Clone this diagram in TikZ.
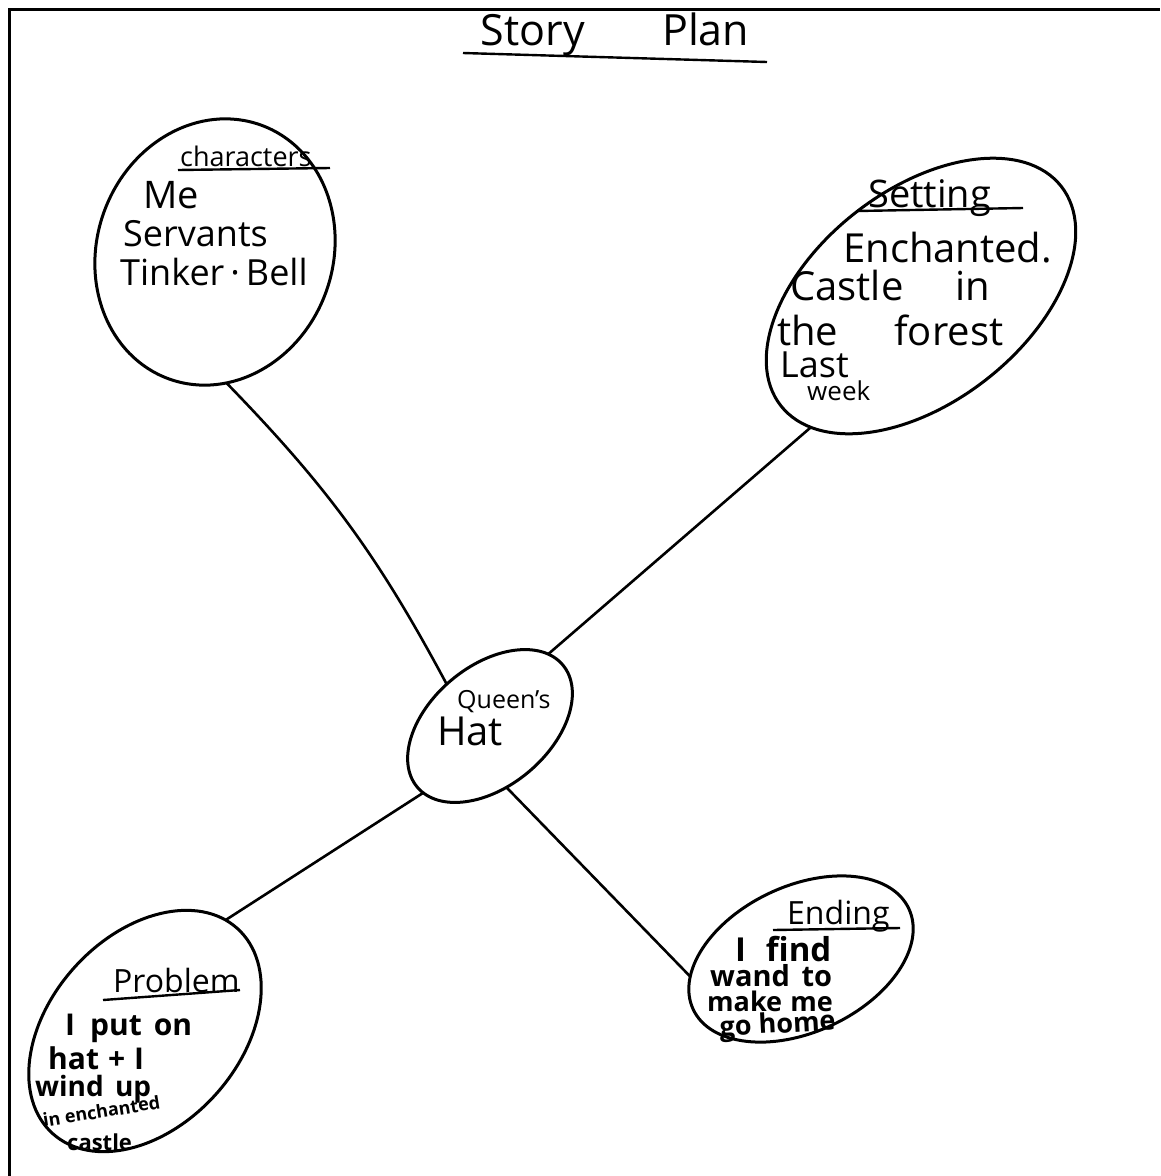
\documentclass[tikz,border=0pt]{standalone}
\usepackage{fontspec}
\setmainfont{Open Sans}
\usetikzlibrary{shapes.geometric}
\begin{document}
\begin{tikzpicture}[x=1pt,y=-1pt,
    blob/.style={draw,ellipse,line width=3pt,inner sep=0pt,outer sep=0pt},
    hand/.style={inner sep=0pt,anchor=base west,font=\fontsize{#1}{#1}\selectfont},
    boldhand/.style={inner sep=0pt,anchor=base west,font=\fontsize{#1}{#1}\selectfont\bfseries},
    link/.style={line width=2.6pt},
    rule/.style={line width=2.4pt}]
  \useasboundingbox (0,0) rectangle (1160,1176);
  \draw[line width=3pt] (9,1176) -- (9,9) -- (1160,9);
  \path
    (215,252) node[blob,minimum width=270,minimum height=236,rotate=70] (chars) {}
    (921,296) node[blob,minimum width=356,minimum height=212,rotate=38] (setting) {}
    (490,726) node[blob,minimum width=190,minimum height=120,rotate=40] (hat) {}
    (145,1031) node[blob,minimum width=276,minimum height=190,rotate=48] (problem) {}
    (801,959) node[blob,minimum width=238,minimum height=146,rotate=25] (ending) {};
  \path
    (615,45) node[hand=43,anchor=base] (title) {Story\hspace{1.8em}Plan}
    (180,166) node[hand=27] (charshead) {characters}
    (143,208) node[hand=38] (me) {Me}
    (123,246) node[hand=36] (servants) {Servants}
    (120,285) node[hand=36] (tinker) {Tinker\,·\,Bell}
    (868,207) node[hand=38] (settinghead) {Setting}
    (843,262) node[hand=40] (enchanted) {Enchanted.}
    (790,300) node[hand=40] (castle) {Castle\hspace{1.3em}in}
    (777,345) node[hand=40] (forest) {the\hspace{1.4em}forest}
    (780,377) node[hand=36] (last) {Last}
    (807,400) node[hand=26] (week) {week}
    (457,708) node[hand=25] (queens) {Queen's}
    (437,745) node[hand=40] (hattext) {Hat}
    (113,992) node[hand=32] (problemhead) {Problem}
    (65,1035) node[boldhand=30] (puton) {I\hspace{0.5em}put\hspace{0.4em}on}
    (48,1069) node[boldhand=30] (hatand) {hat\hspace{0.3em}+\hspace{0.3em}I}
    (35,1096) node[boldhand=28] (windup) {wind\hspace{0.4em}up}
    (44,1127) node[boldhand=18,rotate=9] (inench) {in enchanted}
    (67,1150) node[boldhand=22] (castleb) {castle}
    (787,924) node[hand=32] (endinghead) {Ending}
    (735,961) node[boldhand=33] (ifind) {I\hspace{0.6em}find}
    (710,986) node[boldhand=29] (wand) {wand\hspace{0.4em}to}
    (707,1011) node[boldhand=27] (makeme) {make\hspace{0.3em}me}
    (720,1036) node[boldhand=27,rotate=3] (gohome) {go home};
  \draw[rule] (463,53) -- (767,62);
  \draw[rule] (178,170) -- (330,168);
  \draw[rule] (857,211) -- (1023,208);
  \draw[rule] (103,1000) -- (240,990);
  \draw[rule] (773,930) -- (900,928);
  \begin{scope}[link]
    \draw (chars.-155) to[bend left=8] (hat.96);
    \draw (setting.192) to (hat.11);
    \draw (hat.185) to (problem.6);
    \draw (hat.-115) to (ending.164);
  \end{scope}
\end{tikzpicture}
\end{document}
